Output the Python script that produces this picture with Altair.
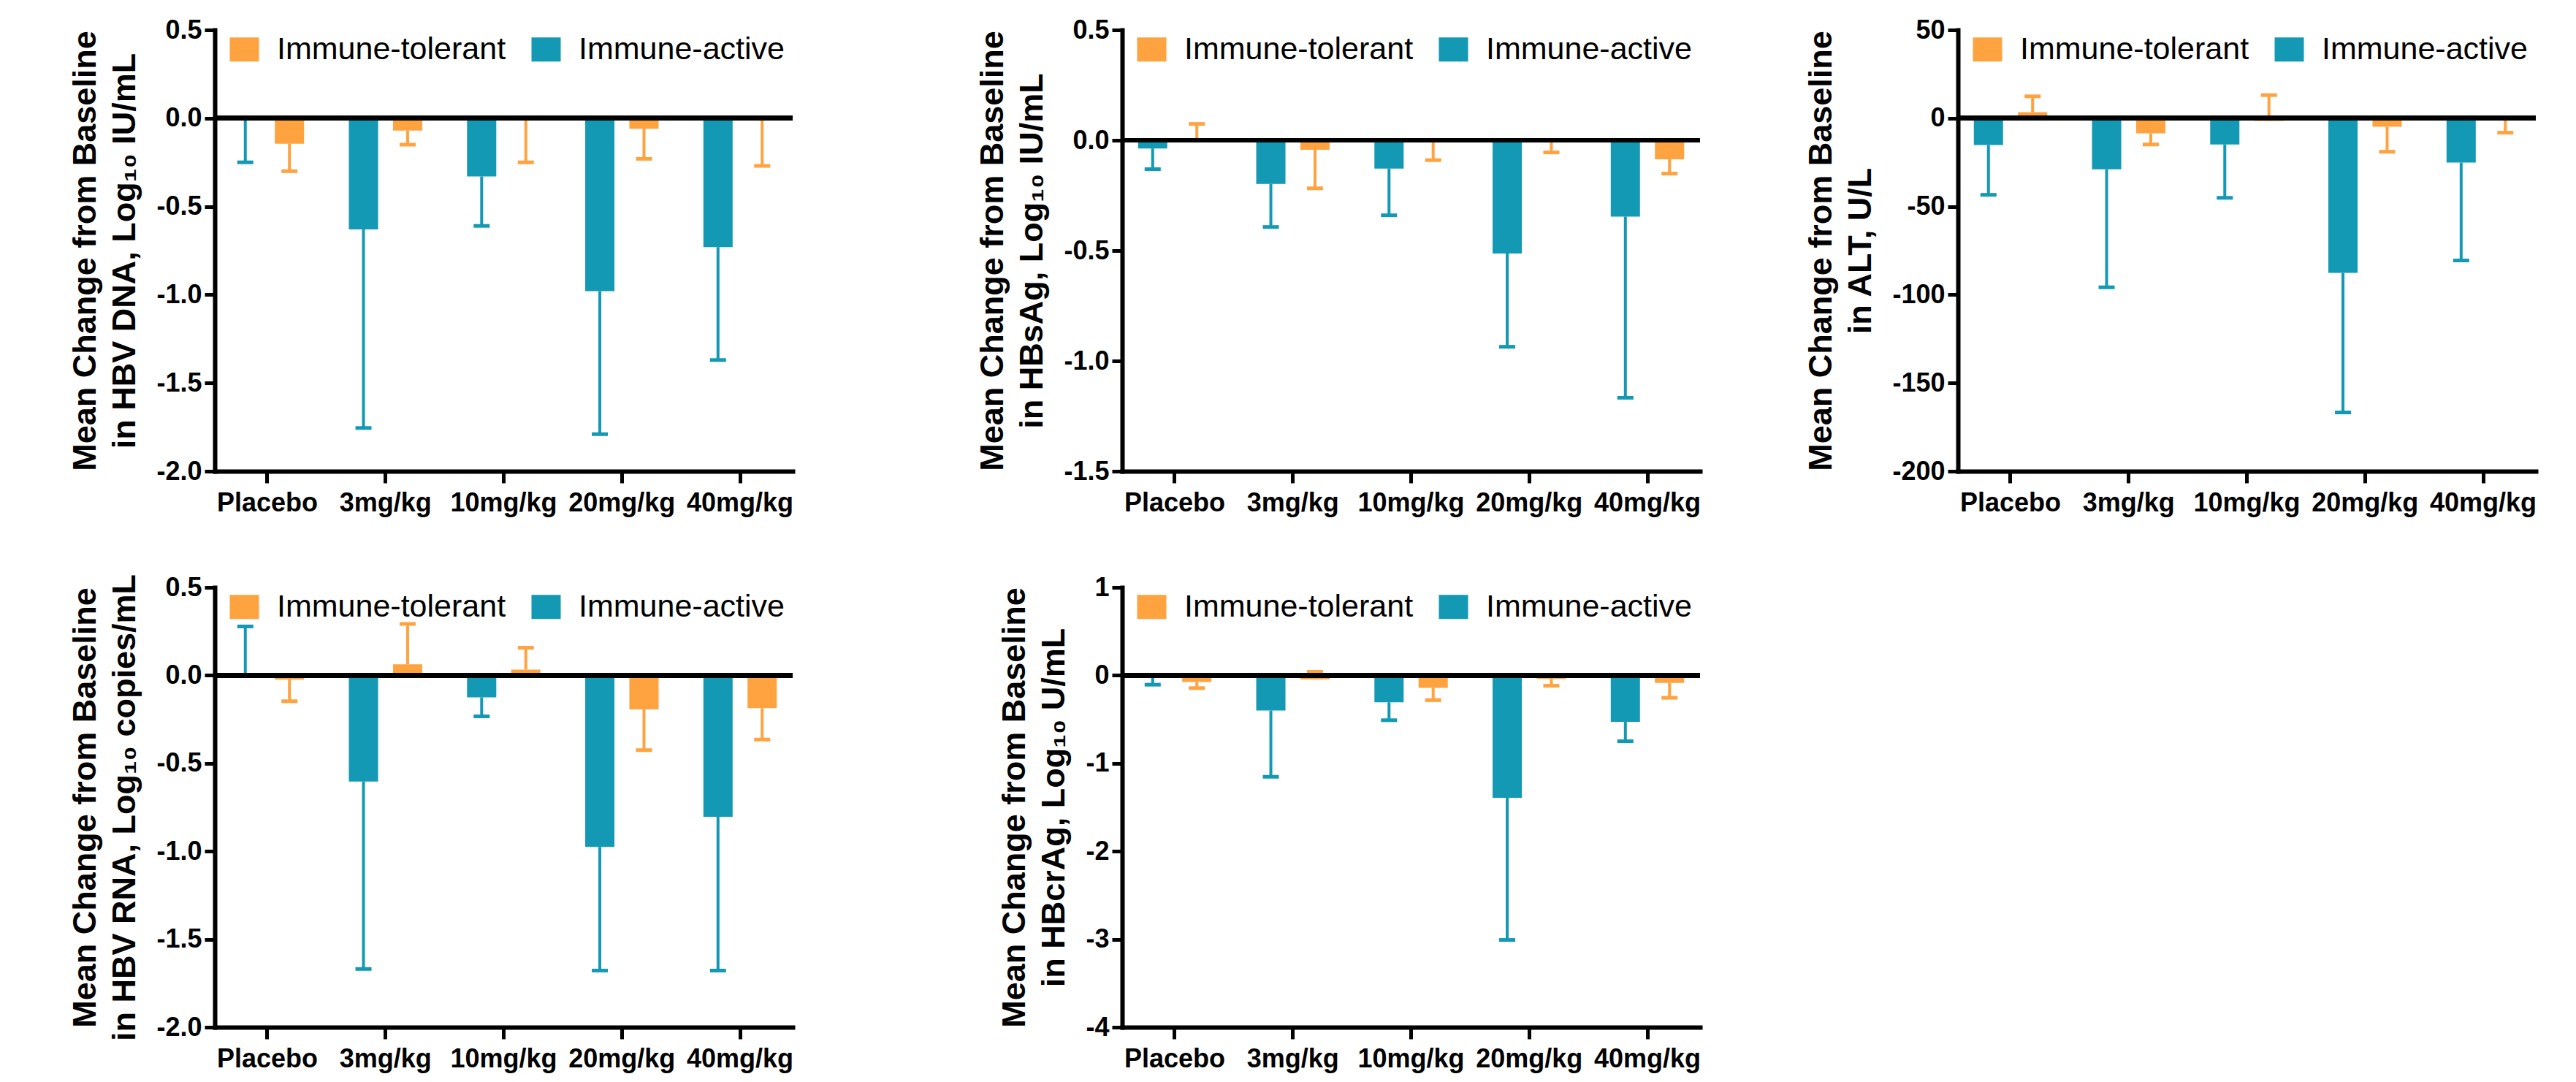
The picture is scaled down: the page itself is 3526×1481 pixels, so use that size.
import altair as alt
import pandas as pd

doses = ["Placebo", "3mg/kg", "10mg/kg", "20mg/kg", "40mg/kg"]
groups = ["Immune-tolerant", "Immune-active"]
bar_order = ["Immune-active", "Immune-tolerant"]
colors = {"Immune-tolerant": "#FFA340", "Immune-active": "#1399B3"}

# Panel 1: HBV DNA
dna_active_mean = [-0.01, -0.63, -0.33, -0.98, -0.73]
dna_active_err = [-0.25, -1.755, -0.61, -1.79, -1.37]
dna_tol_mean = [-0.145, -0.07, -0.004, -0.06, -0.01]
dna_tol_err = [-0.30, -0.15, -0.25, -0.23, -0.27]

# Panel 2: HBsAg
sag_active_mean = [-0.037, -0.198, -0.128, -0.513, -0.346]
sag_active_err = [-0.131, -0.393, -0.340, -0.936, -1.167]
sag_tol_mean = [0.007, -0.043, -0.003, -0.003, -0.086]
sag_tol_err = [0.074, -0.218, -0.09, -0.055, -0.151]

# Panel 3: ALT
alt_active_mean = [-15.2, -29.0, -14.9, -87.6, -25.1]
alt_active_err = [-43.4, -95.8, -45.1, -166.7, -80.6]
alt_tol_mean = [3.4, -8.6, -1.5, -4.8, 1.0]
alt_tol_err = [12.4, -14.9, 13.1, -19.0, -8.2]

# Panel 4: HBV RNA
rna_active_mean = [-0.01, -0.604, -0.125, -0.975, -0.804]
rna_active_err = [0.278, -1.669, -0.233, -1.678, -1.678]
rna_tol_mean = [-0.024, 0.063, 0.033, -0.194, -0.186]
rna_tol_err = [-0.147, 0.292, 0.157, -0.425, -0.365]

# Panel 5: HBcrAg
cra_active_mean = [0.015, -0.40, -0.306, -1.392, -0.529]
cra_active_err = [-0.106, -1.153, -0.51, -3.008, -0.749]
cra_tol_mean = [-0.075, -0.047, -0.141, -0.04, -0.086]
cra_tol_err = [-0.145, 0.04, -0.282, -0.118, -0.255]

FONT = "Liberation Sans, Arial, sans-serif"
W = 791


def make_df(am, ae, tm, te):
    rows = []
    for i, d in enumerate(doses):
        rows.append({"dose": d, "group": "Immune-active", "mean": am[i], "err": ae[i],
                     "hex": colors["Immune-active"]})
        rows.append({"dose": d, "group": "Immune-tolerant", "mean": tm[i], "err": te[i],
                     "hex": colors["Immune-tolerant"]})
    return pd.DataFrame(rows)


def panel(df, title, domain, ticks, fmt, height):
    xenc = alt.X("dose:N", sort=doses,
                 scale=alt.Scale(domain=doses, paddingInner=0.11, paddingOuter=0),
                 axis=alt.Axis(title=None, labelAngle=0))
    xo = alt.XOffset("group:N",
                     scale=alt.Scale(domain=bar_order, paddingInner=0.338, paddingOuter=0.36))
    yscale = alt.Scale(domain=domain, nice=False, zero=False)
    yaxis = alt.Axis(title=title, values=ticks, format=fmt,
                     labelExpr="replace(datum.label, '\u2212', '-')")

    def yenc(field):
        return alt.Y(field, type="quantitative", scale=yscale, axis=yaxis)

    base = alt.Chart(df)
    rules = base.mark_rule(strokeWidth=4).encode(
        x=xenc, xOffset=xo, y=yenc("mean"), y2="err:Q",
        color=alt.Color("hex:N", scale=None))
    caps = base.mark_tick(size=22, thickness=5, opacity=1).encode(
        x=xenc, xOffset=xo, y=yenc("err"),
        color=alt.Color("hex:N", scale=None))
    bars = base.mark_bar(opacity=1).encode(
        x=xenc, xOffset=xo, y=yenc("mean"),
        color=alt.Color("group:N",
                        scale=alt.Scale(domain=groups,
                                        range=[colors[g] for g in groups]),
                        legend=alt.Legend(title=None, orient="none", legendX=19, legendY=5,
                                          direction="horizontal",
                                          symbolType="M-1,-0.83H1V0.83H-1Z",
                                          symbolSize=1600, symbolStrokeWidth=0,
                                          symbolOpacity=1,
                                          labelFont=FONT, labelFontSize=43,
                                          labelColor="black", labelOffset=23,
                                          labelLimit=2000,
                                          columnPadding=33, padding=0)))
    zero = base.mark_rule(color="black", strokeWidth=6).encode(y=alt.datum(0))
    return alt.layer(rules, caps, bars, zero).properties(width=W, height=height)


def spacer(w):
    return alt.Chart(pd.DataFrame({"a": [0]})).mark_point(opacity=0).encode(
        x=alt.X("a:Q", axis=None), y=alt.Y("a:Q", axis=None)
    ).properties(width=w, height=10)


T1 = "Mean Change from Baseline"
p1 = panel(make_df(dna_active_mean, dna_active_err, dna_tol_mean, dna_tol_err),
           [T1, "in HBV DNA, Log\u2081\u2080 IU/mL"], [-2.0, 0.5],
           [-2.0, -1.5, -1.0, -0.5, 0.0, 0.5], ".1f", 604)
p2 = panel(make_df(sag_active_mean, sag_active_err, sag_tol_mean, sag_tol_err),
           [T1, "in HBsAg, Log\u2081\u2080 IU/mL"], [-1.5, 0.5],
           [-1.5, -1.0, -0.5, 0.0, 0.5], ".1f", 604)
p3 = panel(make_df(alt_active_mean, alt_active_err, alt_tol_mean, alt_tol_err),
           [T1, "in ALT, U/L"], [-200, 50],
           [-200, -150, -100, -50, 0, 50], "d", 604)
p4 = panel(make_df(rna_active_mean, rna_active_err, rna_tol_mean, rna_tol_err),
           [T1, "in HBV RNA, Log\u2081\u2080 copies/mL"], [-2.0, 0.5],
           [-2.0, -1.5, -1.0, -0.5, 0.0, 0.5], ".1f", 602)
p5 = panel(make_df(cra_active_mean, cra_active_err, cra_tol_mean, cra_tol_err),
           [T1, "in HBcrAg, Log\u2081\u2080 U/mL"], [-4, 1],
           [-4, -3, -2, -1, 0, 1], "d", 602)

chart = alt.concat(
    p1, spacer(431), p2, spacer(333), p3,
    p4, spacer(431), p5,
    columns=5, spacing={"row": 159, "column": 10}, bounds="flush", align="each"
).resolve_scale(
    x="independent", y="independent", color="independent", xOffset="independent"
).resolve_legend(color="independent").properties(
    padding={"left": 86, "top": 15, "right": 5, "bottom": 5}
).configure_view(stroke=None).configure_axis(
    domainColor="black", domainWidth=6, domainCap="square",
    tickColor="black", tickWidth=5, grid=False,
    labelFont=FONT, labelFontSize=36, labelFontWeight="bold", labelColor="black",
    titleFont=FONT, titleFontSize=45, titleFontWeight="bold", titleColor="black",
).configure_axisX(
    tickSize=16, labelPadding=10
).configure_axisY(
    tickSize=14, labelPadding=4, titlePadding=20, titleLineHeight=54
)

chart.save("out.html", embed_options={"renderer": "svg", "actions": False})
